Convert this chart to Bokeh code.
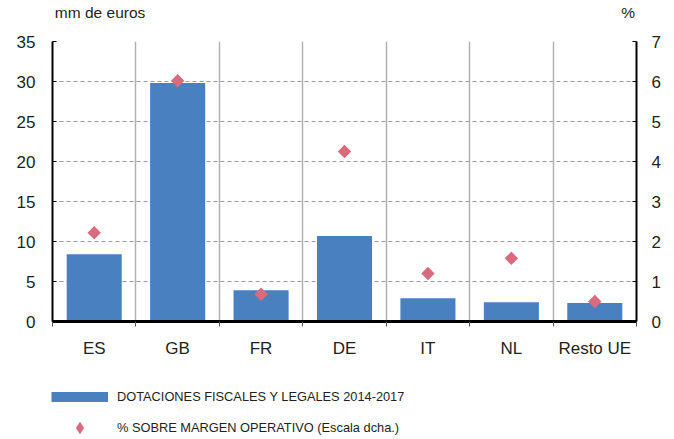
from bokeh.plotting import figure
from bokeh.layouts import column
from bokeh.models import (Range1d, LinearAxis, FixedTicker, Legend, LegendItem,
                          ColumnDataSource, Grid)
from bokeh.embed import file_html
from bokeh.resources import INLINE

categories = ["ES", "GB", "FR", "DE", "IT", "NL", "Resto UE"]
dotaciones = [8.4, 29.8, 3.9, 10.7, 2.9, 2.4, 2.3]
pct_margen = [2.22, 6.02, 0.68, 4.25, 1.2, 1.58, 0.5]
left_ticks = [0, 5, 10, 15, 20, 25, 30, 35]
right_ticks = [0, 1, 2, 3, 4, 5, 6, 7]
left_unit = "mm de euros"
right_unit = "%"
legend_bar = "DOTACIONES FISCALES Y LEGALES 2014-2017"
legend_pt = "% SOBRE MARGEN OPERATIVO (Escala dcha.)"

FONT = "Liberation Sans"
TXT = "#231f20"
BLUE = "#4880c0"
PINK = "#db6a7c"

n = len(categories)
centers = [i + 0.5 for i in range(n)]
bounds = list(range(n + 1))

src = ColumnDataSource(dict(x=centers, bar=dotaciones, pct=pct_margen, cat=categories))

p = figure(frame_width=584, frame_height=280, output_backend="svg", toolbar_location=None,
           x_range=Range1d(0, n), y_range=Range1d(0, 35),
           min_border_left=52, min_border_right=38, min_border_top=41, min_border_bottom=60,
           x_axis_type=None, y_axis_type=None)
p.outline_line_color = None
p.background_fill_color = "white"
p.border_fill_color = "white"
p.extra_y_ranges = {"pct": Range1d(0, 7)}

# axes
xax = LinearAxis(ticker=FixedTicker(ticks=centers, minor_ticks=bounds),
                 major_label_overrides={c: lab for c, lab in zip(centers, categories)})
xax.axis_line_color = "black"
xax.axis_line_width = 3
xax.major_tick_line_color = None
xax.minor_tick_line_color = "#555555"
xax.minor_tick_out = 5
xax.minor_tick_in = 0
xax.major_label_standoff = 11
xax.major_label_text_font = FONT
xax.major_label_text_font_size = "17px"
xax.major_label_text_color = TXT
p.add_layout(xax, "below")

# unit labels above the frame
top_ax = LinearAxis(ticker=FixedTicker(ticks=[centers[0] + 0.07, n - 0.1]),
                    major_label_overrides={centers[0] + 0.07: left_unit, n - 0.1: right_unit})
top_ax.axis_line_color = None
top_ax.major_tick_line_color = None
top_ax.minor_tick_line_color = None
top_ax.major_label_standoff = 15
top_ax.major_label_text_font = FONT
top_ax.major_label_text_font_size = "15.5px"
top_ax.major_label_text_color = TXT
p.add_layout(top_ax, "above")

yax = LinearAxis(ticker=FixedTicker(ticks=left_ticks))
yax.axis_line_color = "black"
yax.axis_line_width = 2
yax.major_tick_in = 4
yax.major_tick_out = 0
yax.major_tick_line_color = "black"
yax.minor_tick_line_color = None
yax.major_label_standoff = 17
yax.major_label_text_font = FONT
yax.major_label_text_font_size = "17px"
yax.major_label_text_color = TXT
p.add_layout(yax, "left")

yax2 = LinearAxis(y_range_name="pct", ticker=FixedTicker(ticks=right_ticks))
yax2.axis_line_color = "black"
yax2.axis_line_width = 2
yax2.major_tick_in = 4
yax2.major_tick_out = 0
yax2.major_tick_line_color = "black"
yax2.minor_tick_line_color = None
yax2.major_label_standoff = 15
yax2.major_label_text_font = FONT
yax2.major_label_text_font_size = "17px"
yax2.major_label_text_color = TXT
p.add_layout(yax2, "right")

# grids
hgrid = Grid(dimension=1, ticker=FixedTicker(ticks=left_ticks[1:]),
             grid_line_color="#999999", grid_line_dash="4 3", grid_line_width=1)
vgrid = Grid(dimension=0, ticker=FixedTicker(ticks=bounds[1:-1]),
             grid_line_color="#b0b0b0", grid_line_width=1.5)
p.add_layout(hgrid)
p.add_layout(vgrid)

p.vbar(x="x", top="bar", width=0.66, source=src, fill_color=BLUE, line_color=None)
p.scatter(x="x", y="pct", source=src, y_range_name="pct", marker="square",
          angle=0.785398, size=9.5, fill_color=PINK, line_color=None)

# legend strip below the chart
q = figure(frame_width=674, frame_height=58, output_backend="svg", toolbar_location=None,
           x_range=Range1d(0, 1), y_range=Range1d(0, 1), min_border=0,
           x_axis_type=None, y_axis_type=None)
q.outline_line_color = None
q.xgrid.visible = False
q.ygrid.visible = False
q.background_fill_color = "white"
q.border_fill_color = "white"

nan = float("nan")
leg_bar = q.line(x=[0, 1], y=[nan, nan], line_color=BLUE, line_width=10)
leg_pt = q.scatter(x=[0], y=[nan], marker="diamond", size=13,
                   fill_color=PINK, line_color=None)

legend = Legend(items=[
    LegendItem(label=legend_bar, renderers=[leg_bar]),
    LegendItem(label=legend_pt, renderers=[leg_pt]),
], location=(51, -4), orientation="vertical",
   glyph_width=57, glyph_height=31, label_height=31, spacing=0,
   label_standoff=9, padding=0, margin=0, border_line_color=None,
   background_fill_alpha=0, label_text_font=FONT, label_text_font_size="12.8px",
   label_text_color=TXT)
q.add_layout(legend, "center")

layout = column(p, q, spacing=0)
open("out.html", "w").write(file_html(layout, INLINE))
